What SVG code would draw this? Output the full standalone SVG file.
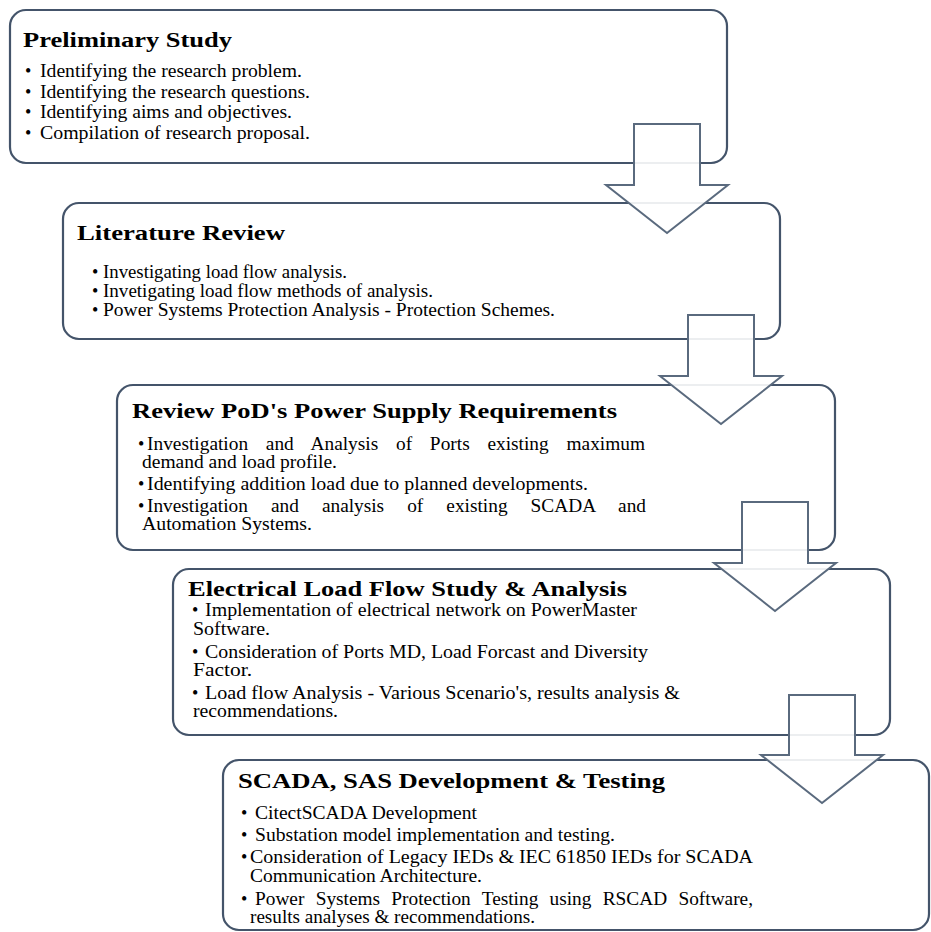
<svg xmlns="http://www.w3.org/2000/svg" width="931" height="932" viewBox="0 0 931 932">
<style>
.box{fill:#ffffff;stroke:#44546a;stroke-width:2.2}
.arrow{fill:#ffffff;fill-opacity:0.9;stroke:#5a6a7e;stroke-width:2}
.t{font-family:"Liberation Serif","Times New Roman",serif;font-weight:bold;font-size:22px;fill:#000}
.b{font-family:"Liberation Serif","Times New Roman",serif;font-size:18px;fill:#000}
.j1{word-spacing:12px}
.j2{word-spacing:17px}
.j3{word-spacing:6px}
</style>
<rect width="931" height="932" fill="#ffffff"/>
<g id="node-preliminary">
<rect class="box" x="10" y="10" width="717" height="153" rx="16"/>
<text class="t" x="23" y="47" textLength="209" lengthAdjust="spacingAndGlyphs">Preliminary Study</text>
<text class="b" x="25" y="77">•</text><text class="b" x="40" y="77" textLength="262" lengthAdjust="spacingAndGlyphs">Identifying the research problem.</text>
<text class="b" x="25" y="97.5">•</text><text class="b" x="40" y="97.5" textLength="270" lengthAdjust="spacingAndGlyphs">Identifying the research questions.</text>
<text class="b" x="25" y="118">•</text><text class="b" x="40" y="118" textLength="252" lengthAdjust="spacingAndGlyphs">Identifying aims and objectives.</text>
<text class="b" x="25" y="139">•</text><text class="b" x="40" y="139" textLength="270" lengthAdjust="spacingAndGlyphs">Compilation of research proposal.</text>
</g>
<g id="node-literature">
<rect class="box" x="63" y="203" width="717" height="136" rx="16"/>
<text class="t" x="77" y="240" textLength="208" lengthAdjust="spacingAndGlyphs">Literature Review</text>
<text class="b" x="92" y="278">•</text><text class="b" x="103" y="278" textLength="244" lengthAdjust="spacingAndGlyphs">Investigating load flow analysis.</text>
<text class="b" x="92" y="297">•</text><text class="b" x="103" y="297" textLength="330" lengthAdjust="spacingAndGlyphs">Invetigating load flow methods of analysis.</text>
<text class="b" x="92" y="316">•</text><text class="b" x="103" y="316" textLength="452" lengthAdjust="spacingAndGlyphs">Power Systems Protection Analysis - Protection Schemes.</text>
</g>
<g id="node-review">
<rect class="box" x="117" y="385" width="718" height="165" rx="16"/>
<text class="t" x="132" y="418" textLength="485" lengthAdjust="spacingAndGlyphs">Review PoD's Power Supply Requirements</text>
<text class="b" x="138" y="450">•</text><text class="b j1" x="147" y="450" textLength="498" lengthAdjust="spacingAndGlyphs">Investigation and Analysis of Ports existing maximum</text>
<text class="b" x="142" y="468" textLength="195" lengthAdjust="spacingAndGlyphs">demand and load profile.</text>
<text class="b" x="138" y="490">•</text><text class="b" x="147" y="490" textLength="441" lengthAdjust="spacingAndGlyphs">Identifying addition load due to planned developments.</text>
<text class="b" x="138" y="512">•</text><text class="b j2" x="147" y="512" textLength="499" lengthAdjust="spacingAndGlyphs">Investigation and analysis of existing SCADA and</text>
<text class="b" x="142" y="530" textLength="170" lengthAdjust="spacingAndGlyphs">Automation Systems.</text>
</g>
<g id="node-loadflow">
<rect class="box" x="173" y="569" width="717" height="166" rx="16"/>
<text class="t" x="188" y="596" textLength="439" lengthAdjust="spacingAndGlyphs">Electrical Load Flow Study &amp; Analysis</text>
<text class="b" x="192" y="616">•</text><text class="b" x="205" y="616" textLength="432" lengthAdjust="spacingAndGlyphs">Implementation of electrical network on PowerMaster</text>
<text class="b" x="193" y="635" textLength="77" lengthAdjust="spacingAndGlyphs">Software.</text>
<text class="b" x="192" y="658">•</text><text class="b" x="205" y="658" textLength="443" lengthAdjust="spacingAndGlyphs">Consideration of Ports MD, Load Forcast and Diversity</text>
<text class="b" x="193" y="676" textLength="59" lengthAdjust="spacingAndGlyphs">Factor.</text>
<text class="b" x="192" y="699">•</text><text class="b" x="205" y="699" textLength="475" lengthAdjust="spacingAndGlyphs">Load flow Analysis - Various Scenario's, results analysis &amp;</text>
<text class="b" x="193" y="717" textLength="145" lengthAdjust="spacingAndGlyphs">recommendations.</text>
</g>
<g id="node-scada">
<rect class="box" x="223" y="760" width="706" height="170" rx="16"/>
<text class="t" x="238" y="788" textLength="427" lengthAdjust="spacingAndGlyphs">SCADA, SAS Development &amp; Testing</text>
<text class="b" x="241" y="819">•</text><text class="b" x="255" y="819" textLength="222" lengthAdjust="spacingAndGlyphs">CitectSCADA Development</text>
<text class="b" x="241" y="841">•</text><text class="b" x="255" y="841" textLength="360" lengthAdjust="spacingAndGlyphs">Substation model implementation and testing.</text>
<text class="b" x="241" y="863">•</text><text class="b" x="250" y="863" textLength="503" lengthAdjust="spacingAndGlyphs">Consideration of Legacy IEDs &amp; IEC 61850 IEDs for SCADA</text>
<text class="b" x="250" y="882" textLength="232" lengthAdjust="spacingAndGlyphs">Communication Architecture.</text>
<text class="b" x="241" y="905">•</text><text class="b j3" x="255" y="905" textLength="498" lengthAdjust="spacingAndGlyphs">Power Systems Protection Testing using RSCAD Software,</text>
<text class="b" x="250" y="923" textLength="285" lengthAdjust="spacingAndGlyphs">results analyses &amp; recommendations.</text>
</g>
<g id="connectors">
<polygon class="arrow" points="634,124 700,124 700,185 728,185 667,233 606,185 634,185"/>
<polygon class="arrow" points="688,315 754,315 754,376 782,376 721,424 660,376 688,376"/>
<polygon class="arrow" points="742,502 808,502 808,563 836,563 775,611 714,563 742,563"/>
<polygon class="arrow" points="789,695 855,695 855,755 883,755 822,803 761,755 789,755"/>
</g>
</svg>
